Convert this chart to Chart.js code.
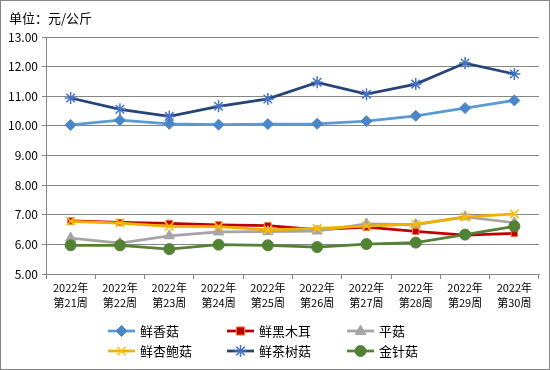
<!DOCTYPE html>
<html><head><meta charset="utf-8">
<script src="https://cdn.jsdelivr.net/npm/chart.js@4/dist/chart.umd.min.js"></script>
<style>html,body{margin:0;padding:0;background:#fff}#wrap{width:550px;height:370px}</style>
</head><body><div id="wrap"><canvas id="c" width="550" height="370"></canvas></div>
<script>
const categories = ['第21周','第22周','第23周','第24周','第25周','第26周','第27周','第28周','第29周','第30周'];
const yearLabel = '2022年';
const shiitake   = [10.03,10.19,10.07,10.04,10.06,10.07,10.16,10.34,10.60,10.86];
const blackFungus= [6.79,6.74,6.71,6.66,6.63,6.50,6.58,6.44,6.31,6.37];
const oyster     = [6.21,6.04,6.29,6.42,6.43,6.45,6.69,6.67,6.93,6.73];
const kingOyster = [6.78,6.72,6.61,6.60,6.49,6.54,6.62,6.68,6.92,7.03];
const teaTree    = [10.94,10.56,10.32,10.66,10.91,11.47,11.07,11.41,12.12,11.75];
const enoki      = [5.97,5.97,5.84,5.99,5.97,5.91,6.01,6.06,6.33,6.61];
const seriesNames = ['鲜香菇','鲜黑木耳','平菇','鲜杏鲍菇','鲜茶树菇','金针菇'];
const unitTitle = '单位：元/公斤';

const styles = [
  {line:'#5B9BD5', fill:'#4A86C8', border:'#4A86C8', shape:'rectRot', r:5.5},
  {line:'#C00000', fill:'#C00000', border:'#ED7D31', shape:'rect', r:4.5},
  {line:'#A5A5A5', fill:'#A5A5A5', border:'#A5A5A5', shape:'triangle', r:6},
  {line:'#F0B000', fill:'#FFC000', border:'#FFC000', shape:'crossRot', r:6},
  {line:'#264478', fill:'#4472C4', border:'#4472C4', shape:'star', r:6},
  {line:'#548235', fill:'#548235', border:'#548235', shape:'circle', r:5.5}
];
const values = [shiitake, blackFungus, oyster, kingOyster, teaTree, enoki];
const FONT = '"Noto Sans CJK SC", "Noto Sans", sans-serif';

const datasets = values.map((v,i)=>({
  label: seriesNames[i], data: v,
  borderColor: styles[i].line, borderWidth: 2.75,
  pointStyle: styles[i].shape, pointRadius: styles[i].r,
  pointBackgroundColor: styles[i].fill, pointBorderColor: styles[i].border,
  pointBorderWidth: (styles[i].shape==='crossRot'||styles[i].shape==='star') ? 1.5 : 1,
  tension: 0, fill: false, order: 10 - i
}));

function marker(ctx, s, x, y){
  const r = s.r;
  ctx.save();
  ctx.fillStyle = s.fill; ctx.strokeStyle = s.border; ctx.lineWidth = 1;
  ctx.beginPath();
  if (s.shape==='rectRot'){ ctx.moveTo(x,y-r);ctx.lineTo(x+r,y);ctx.lineTo(x,y+r);ctx.lineTo(x-r,y);ctx.closePath();ctx.fill();ctx.stroke(); }
  else if (s.shape==='rect'){ const h=r*0.9; ctx.rect(x-h,y-h,2*h,2*h);ctx.fill();ctx.stroke(); }
  else if (s.shape==='triangle'){ ctx.moveTo(x,y-r);ctx.lineTo(x+r*0.9,y+r*0.6);ctx.lineTo(x-r*0.9,y+r*0.6);ctx.closePath();ctx.fill();ctx.stroke(); }
  else if (s.shape==='circle'){ ctx.arc(x,y,r,0,Math.PI*2);ctx.fill();ctx.stroke(); }
  else if (s.shape==='crossRot' || s.shape==='star'){
    ctx.lineWidth = 1.5;
    const d = r*0.707;
    ctx.moveTo(x-d,y-d);ctx.lineTo(x+d,y+d);ctx.moveTo(x-d,y+d);ctx.lineTo(x+d,y-d);
    if (s.shape==='star'){ ctx.moveTo(x,y-r);ctx.lineTo(x,y+r);ctx.moveTo(x-r,y);ctx.lineTo(x+r,y); }
    ctx.stroke();
  }
  ctx.restore();
}

const decor = {
  id:'decor',
  afterDraw(chart){
    const ctx = chart.ctx;
    ctx.save();
    ctx.strokeStyle = '#868686'; ctx.lineWidth = 1;
    ctx.strokeRect(0.5,0.5,549,369);
    ctx.fillStyle = '#000';
    ctx.font = '13px ' + FONT;
    ctx.textBaseline = 'middle'; ctx.textAlign = 'left';
    ctx.fillText(unitTitle, 9, 18);
    const cols = [108, 227, 347];
    const rows = [331, 351];
    ctx.font = '13px ' + FONT;
    seriesNames.forEach((name,i)=>{
      const x = cols[i%3], y = rows[Math.floor(i/3)];
      const s = styles[i];
      ctx.strokeStyle = s.line; ctx.lineWidth = 2.75;
      ctx.beginPath(); ctx.moveTo(x,y); ctx.lineTo(x+27,y); ctx.stroke();
      marker(ctx, s, x+13.5, y);
      ctx.fillStyle = '#000';
      ctx.fillText(name, x+32, y);
    });
    ctx.restore();
  }
};

new Chart(document.getElementById('c'), {
  type:'line',
  data:{ labels: categories.map(c=>[yearLabel, c]), datasets },
  options:{
    responsive:false, animation:false, devicePixelRatio:1,
    layout:{ padding:{ top:37, left:0, right:11, bottom:56 } },
    plugins:{ legend:{display:false}, tooltip:{enabled:false}, title:{display:false} },
    scales:{
      x:{
        offset:true,
        grid:{ offset:true, drawOnChartArea:false, drawTicks:true, tickLength:5, color:'#868686' },
        border:{ color:'#868686' },
        ticks:{ maxRotation:0, minRotation:0, autoSkip:false, color:'#000', font:{family:FONT, size:11, lineHeight:1.3}, padding:2 },
        afterFit(s){ s.height = 40; }
      },
      y:{
        min:5, max:13,
        ticks:{ stepSize:1, color:'#000', font:{family:FONT, size:12}, padding:4, callback:v=>Number(v).toFixed(2) },
        grid:{ color:'#868686', tickLength:4 },
        border:{ color:'#868686' },
        afterFit(s){ s.width = 46; }
      }
    }
  },
  plugins:[decor]
});
</script></body></html>
